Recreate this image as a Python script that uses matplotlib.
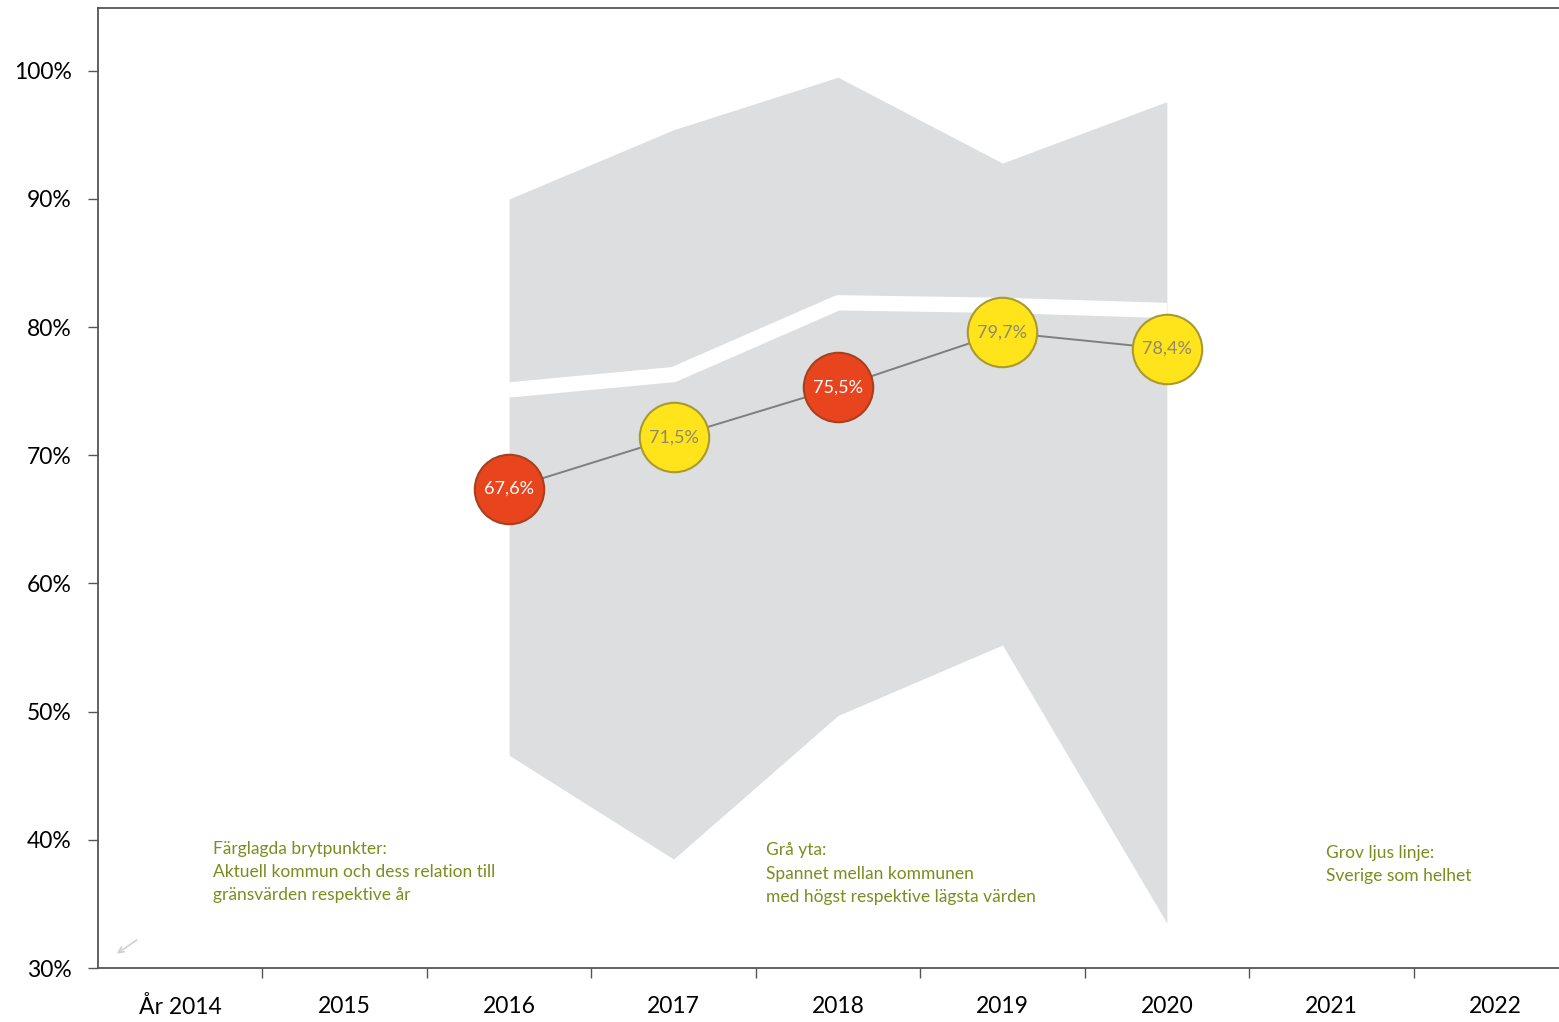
import matplotlib
matplotlib.use('Agg')
import matplotlib.pyplot as plt

plt.rcParams['font.family'] = ['Lato', 'DejaVu Sans']

# Data
years = ['År 2014', '2015', '2016', '2017', '2018', '2019', '2020', '2021', '2022']
band_idx = [2, 3, 4, 5, 6]
band_high = [90.0, 95.4, 99.5, 92.8, 97.6]
band_low = [46.6, 38.5, 49.7, 55.2, 33.5]
sverige = [75.1, 76.3, 81.9, 81.7, 81.3]
kommun = [67.4, 71.4, 75.3, 79.6, 78.3]
kommun_labels = ['67,6%', '71,5%', '75,5%', '79,7%', '78,4%']
kommun_status = ['red', 'yellow', 'red', 'yellow', 'yellow']
y_ticks = [30, 40, 50, 60, 70, 80, 90, 100]

colors = {'red': '#E8441E', 'yellow': '#FFE41C'}
edges = {'red': '#A8401E', 'yellow': '#A89A30'}
text_colors = {'red': 'white', 'yellow': '#8E8A6C'}
note_color = '#7D8C1E'

fig = plt.figure(figsize=(15.59, 10.22), dpi=100)
ax = fig.add_axes([98 / 1559, 54 / 1022, 1480 / 1559, 960 / 1022])

# grey span between highest and lowest municipality
ax.fill_between(band_idx, band_low, band_high, color='#DDDEDF', linewidth=0, zorder=1)

# Sweden as a whole: thick light line
ax.plot(band_idx, sverige, color='white', linewidth=11, solid_capstyle='butt',
        solid_joinstyle='round', zorder=2)

# current municipality
ax.plot(band_idx, kommun, color='#7F7F7F', linewidth=1.4, zorder=3)
for x, v, lab, st in zip(band_idx, kommun, kommun_labels, kommun_status):
    ax.plot(x, v, 'o', markersize=50, markerfacecolor=colors[st],
            markeredgecolor=edges[st], markeredgewidth=1.5, zorder=4)
    ax.text(x, v, lab, ha='center', va='center', fontsize=13,
            color=text_colors[st], zorder=5)

# explanatory notes
note_kw = dict(fontsize=12.5, color=note_color, va='top', ha='left', linespacing=1.55)
ax.text(0.2, 39.9, 'Färglagda brytpunkter:\nAktuell kommun och dess relation till\ngränsvärden respektive år', **note_kw)
ax.text(3.56, 39.8, 'Grå yta:\nSpannet mellan kommunen\nmed högst respektive lägsta värden', **note_kw)
ax.text(6.97, 39.6, 'Grov ljus linje:\nSverige som helhet', **note_kw)

# faint arrow in the corner
ax.annotate('', xy=(-0.4, 31.0), xytext=(-0.25, 32.3),
            arrowprops=dict(arrowstyle='->', color='#D0D0D0', lw=1.2))

ax.set_xlim(-0.5, 8.5)
ax.set_ylim(30, 104.9)

ax.set_xticks(range(len(years)))
ax.set_xticklabels(years, fontsize=16.5)
ax.set_xticks([i + 0.5 for i in range(len(years))], minor=True)
ax.tick_params(axis='x', which='major', length=0, pad=20)
ax.tick_params(axis='x', which='minor', length=7, width=1, color='#555555')

ax.set_yticks(y_ticks)
ax.set_yticklabels([f'{t}%' for t in y_ticks], fontsize=16.5)
ax.tick_params(axis='y', length=7, width=1, color='#555555', pad=12)

for s in ['top', 'left', 'bottom']:
    ax.spines[s].set_color('#555555')
    ax.spines[s].set_linewidth(1.3)
ax.spines['right'].set_visible(False)

fig.savefig('out.png', dpi=100)
